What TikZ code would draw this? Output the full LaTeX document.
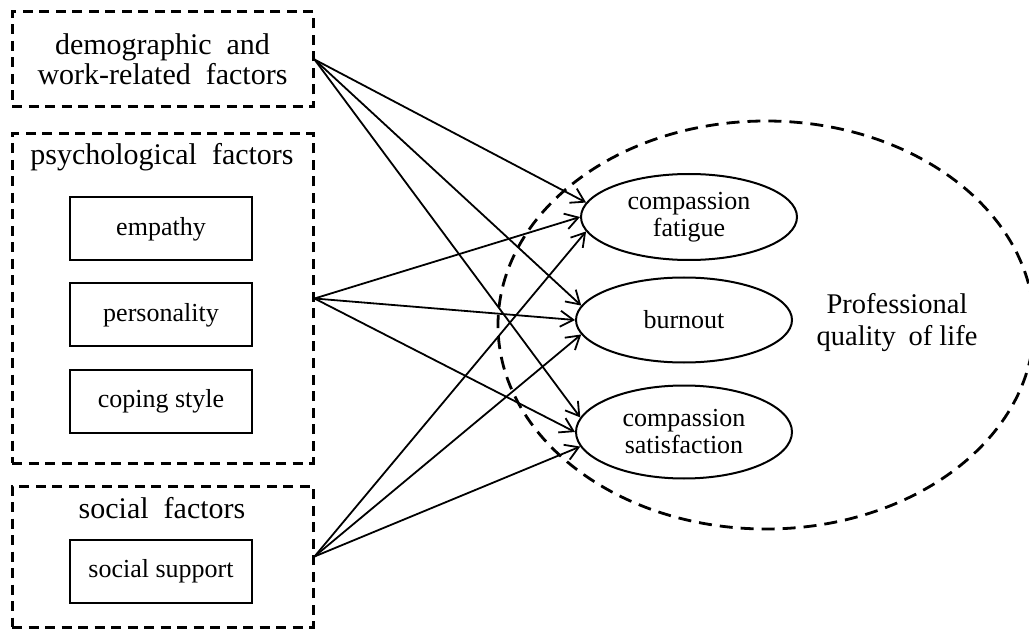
\documentclass[tikz,border=0pt]{standalone}
\usepackage{fontspec}
\setmainfont{Liberation Serif}
\usetikzlibrary{arrows.meta,shapes.geometric}
\begin{document}
\begin{tikzpicture}[x=1pt,y=-1pt,
  grp/.style={draw, line width=3pt, dash pattern=on 10pt off 6.5pt, rectangle, inner sep=0pt},
  item/.style={draw, line width=2pt, rectangle, minimum width=182pt, minimum height=63pt, inner sep=0pt, font=\fontsize{26}{28}\selectfont},
  outcome/.style={draw, ellipse, line width=2pt, minimum width=216pt, minimum height=86pt, inner sep=0pt, align=center, font=\fontsize{26}{27}\selectfont},
  arr/.style={line width=1.8pt, -{Straight Barb[length=13pt,width=16pt,line width=1.8pt]}},
  glab/.style={font=\fontsize{30}{30}\selectfont, align=center}
]
\useasboundingbox (0,0) rectangle (1029,631);
\clip (0,0) rectangle (1029,631);

% left groups
\node[grp, glab, minimum width=301pt, minimum height=95pt] (demo) at (162.5,59.5)
  {demographic\hspace{0.5em}and\\work-related\hspace{0.5em}factors};

\node[grp, minimum width=301pt, minimum height=329pt] (psy) at (162.5,298.5) {};
\node[glab, anchor=base] (psyl) at (162,165) {psychological\hspace{0.5em}factors};
\node[item] (emp) at (161,229) {empathy};
\node[item] (per) at (161,315) {personality};
\node[item] (cop) at (161,401.5) {coping style};

\node[grp, minimum width=301pt, minimum height=141pt] (soc) at (162.5,556.5) {};
\node[glab, anchor=base] (socl) at (162,518) {social\hspace{0.5em}factors};
\node[item] (sup) at (161,571.5) {social support};

% right side
\node[draw, ellipse, line width=2.8pt, dash pattern=on 13pt off 8pt, minimum width=536pt, minimum height=408pt, inner sep=0pt] (pql) at (766,325) {};
\node[align=center, font=\fontsize{28.5}{32}\selectfont] (pqlt) at (897,322.5) {Professional\\quality\hspace{0.45em}of life};

\node[outcome] (cf) at (689,217) {compassion\\fatigue};
\node[outcome, minimum height=85pt] (bo) at (684,320) {burnout};
\node[outcome, minimum height=93pt] (cs) at (684,432) {compassion\\satisfaction};

% arrows
\foreach \t in {cf,bo,cs} {
  \draw[arr] (demo.east) -- (\t.172);
  \draw[arr] (psy.east) -- (\t.180);
  \draw[arr] (soc.east) -- (\t.188);
}
\end{tikzpicture}
\end{document}
